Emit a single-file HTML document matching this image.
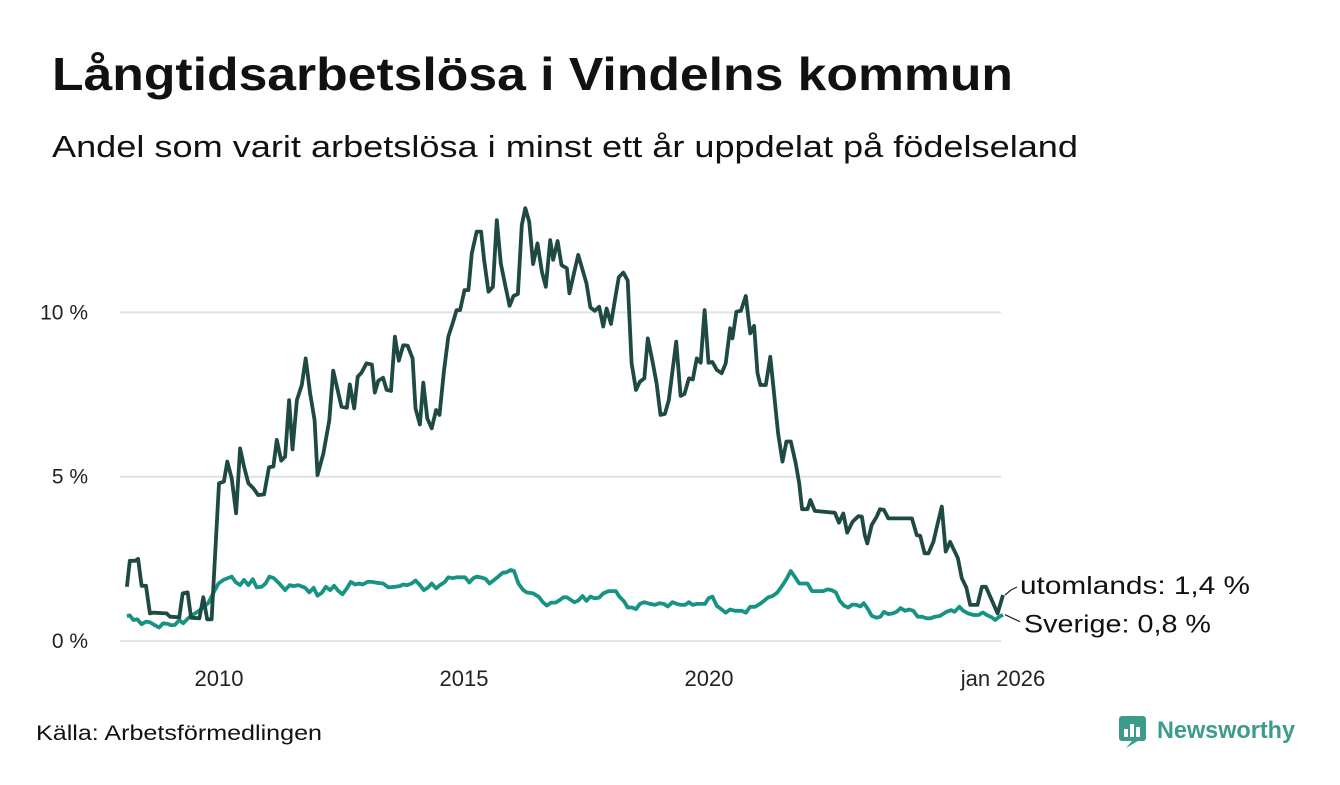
<!DOCTYPE html>
<html><head><meta charset="utf-8">
<style>
html,body{margin:0;padding:0;background:#fff;}
body{width:1340px;height:780px;overflow:hidden;font-family:"Liberation Sans",sans-serif;}
</style></head>
<body>
<svg width="1340" height="780" viewBox="0 0 1340 780" xmlns="http://www.w3.org/2000/svg" style="font-family:'Liberation Sans',sans-serif">
<text x="52" y="90" font-size="46" font-weight="bold" fill="#111" textLength="961" lengthAdjust="spacingAndGlyphs">Långtidsarbetslösa i Vindelns kommun</text>
<text x="52" y="157" font-size="31" fill="#111" textLength="1026" lengthAdjust="spacingAndGlyphs">Andel som varit arbetslösa i minst ett år uppdelat på födelseland</text>
<g id="grid"></g>
<g id="xaxis"></g>
<g id="series"></g>
<text x="36" y="740" font-size="21" fill="#111" textLength="286" lengthAdjust="spacingAndGlyphs">Källa: Arbetsförmedlingen</text>
<g>
<rect x="1119" y="716" width="27" height="25" rx="3" fill="#3d9b8c"/>
<path d="M1126 748 L1132 741 L1138 741 Z" fill="#3d9b8c"/>
<rect x="1124" y="729" width="4" height="8" fill="#fff"/><rect x="1130" y="724" width="4" height="13" fill="#fff"/><rect x="1136" y="727" width="4" height="10" fill="#fff"/>
<text x="1157" y="738" font-size="24" font-weight="bold" fill="#3d9b8c" textLength="138" lengthAdjust="spacingAndGlyphs">Newsworthy</text>
</g>
</svg>
<script>
const yTicks=[0,5,10];
const yTickLabels=["0 %","5 %","10 %"];
const xTicks=[2010,2015,2020,2026];
const xTickLabels=["2010","2015","2020","jan 2026"];
const abroadDates=[2008.12,2008.18,2008.29,2008.35,2008.42,2008.51,2008.59,2008.66,2008.93,2009.00,2009.19,2009.26,2009.36,2009.43,2009.60,2009.68,2009.76,2009.85,2010.00,2010.10,2010.17,2010.26,2010.35,2010.43,2010.51,2010.60,2010.70,2010.80,2010.92,2011.02,2011.11,2011.18,2011.27,2011.35,2011.43,2011.50,2011.59,2011.69,2011.77,2011.86,2011.95,2012.01,2012.13,2012.25,2012.33,2012.42,2012.50,2012.61,2012.67,2012.76,2012.83,2012.91,2013.01,2013.12,2013.18,2013.25,2013.35,2013.42,2013.51,2013.59,2013.67,2013.76,2013.85,2013.95,2014.01,2014.10,2014.17,2014.25,2014.34,2014.43,2014.50,2014.59,2014.68,2014.78,2014.85,2014.92,2015.01,2015.09,2015.16,2015.26,2015.35,2015.41,2015.50,2015.59,2015.67,2015.75,2015.84,2015.93,2016.01,2016.10,2016.18,2016.25,2016.33,2016.41,2016.50,2016.59,2016.67,2016.76,2016.82,2016.91,2016.99,2017.10,2017.15,2017.33,2017.42,2017.50,2017.58,2017.67,2017.76,2017.84,2017.91,2018.00,2018.08,2018.16,2018.25,2018.34,2018.42,2018.51,2018.59,2018.68,2018.75,2018.85,2018.93,2019.01,2019.10,2019.18,2019.33,2019.42,2019.50,2019.59,2019.67,2019.75,2019.83,2019.91,2019.99,2020.07,2020.16,2020.26,2020.34,2020.43,2020.48,2020.56,2020.65,2020.75,2020.84,2020.92,2020.99,2021.05,2021.16,2021.25,2021.41,2021.50,2021.58,2021.67,2021.77,2021.84,2021.90,2022.01,2022.07,2022.16,2022.57,2022.65,2022.74,2022.82,2022.93,2023.05,2023.12,2023.18,2023.23,2023.32,2023.42,2023.49,2023.57,2023.66,2024.14,2024.24,2024.31,2024.40,2024.48,2024.58,2024.66,2024.75,2024.83,2024.92,2024.99,2025.08,2025.16,2025.25,2025.33,2025.48,2025.57,2025.65,2025.89,2026.00];
const abroadValues=[1.65,2.44,2.44,2.50,1.68,1.68,0.84,0.86,0.84,0.74,0.72,1.45,1.48,0.71,0.69,1.33,0.66,0.66,4.80,4.85,5.46,4.95,3.89,5.86,5.31,4.80,4.65,4.44,4.46,5.29,5.31,6.12,5.49,5.61,7.33,5.83,7.33,7.79,8.60,7.54,6.72,5.05,5.71,6.72,8.23,7.64,7.13,7.10,7.81,7.08,8.04,8.17,8.45,8.41,7.56,7.92,8.01,7.64,7.61,9.26,8.53,9.00,8.99,8.60,7.08,6.59,7.86,6.77,6.47,7.03,6.88,8.20,9.26,9.72,10.07,10.07,10.68,10.68,11.80,12.46,12.46,11.60,10.63,10.78,12.81,11.49,10.83,10.20,10.50,10.56,12.66,13.17,12.76,11.47,12.10,11.24,10.78,12.20,11.60,12.17,11.44,11.34,10.58,11.75,11.29,10.88,10.15,10.05,10.17,9.57,10.12,9.65,10.38,11.07,11.21,10.97,8.45,7.64,7.89,7.99,9.21,8.50,7.84,6.88,6.91,7.33,9.11,7.46,7.52,7.99,7.96,8.60,8.47,10.07,8.47,8.49,8.25,8.15,8.45,9.52,9.21,10.02,10.05,10.50,9.36,9.59,8.15,7.79,7.79,8.65,6.32,5.46,6.07,6.07,5.41,4.80,4.01,4.01,4.29,3.96,3.90,3.60,3.88,3.30,3.63,3.80,3.78,3.22,2.97,3.53,3.78,4.01,3.99,3.73,3.73,3.22,3.20,2.67,2.67,3.02,3.53,4.09,2.72,3.02,2.80,2.52,1.91,1.63,1.10,1.10,1.65,1.65,0.84,1.40];
const swedenDates=[2008.12,2008.18,2008.25,2008.33,2008.42,2008.51,2008.59,2008.68,2008.78,2008.86,2008.95,2009.02,2009.10,2009.19,2009.27,2009.37,2009.48,2009.61,2009.78,2009.88,2009.99,2010.09,2010.26,2010.34,2010.43,2010.51,2010.60,2010.69,2010.77,2010.87,2010.95,2011.03,2011.12,2011.23,2011.35,2011.44,2011.52,2011.62,2011.76,2011.84,2011.93,2012.01,2012.10,2012.18,2012.27,2012.35,2012.44,2012.52,2012.61,2012.69,2012.78,2012.86,2012.93,2013.03,2013.12,2013.22,2013.35,2013.46,2013.59,2013.69,2013.76,2013.84,2013.93,2014.01,2014.10,2014.18,2014.27,2014.34,2014.43,2014.51,2014.61,2014.68,2014.77,2014.85,2015.02,2015.11,2015.19,2015.26,2015.36,2015.44,2015.52,2015.60,2015.70,2015.79,2015.87,2015.95,2016.02,2016.11,2016.21,2016.28,2016.41,2016.52,2016.61,2016.69,2016.78,2016.87,2016.96,2017.03,2017.10,2017.25,2017.33,2017.42,2017.50,2017.58,2017.67,2017.76,2017.84,2017.95,2018.10,2018.17,2018.27,2018.34,2018.43,2018.51,2018.59,2018.68,2018.80,2018.90,2018.99,2019.08,2019.16,2019.25,2019.35,2019.42,2019.51,2019.59,2019.67,2019.75,2019.92,2019.99,2020.07,2020.16,2020.26,2020.34,2020.43,2020.53,2020.67,2020.75,2020.84,2020.94,2021.04,2021.12,2021.21,2021.30,2021.39,2021.48,2021.58,2021.67,2021.76,2021.84,2022.01,2022.10,2022.33,2022.42,2022.50,2022.59,2022.67,2022.76,2022.84,2022.93,2023.01,2023.09,2023.16,2023.23,2023.32,2023.42,2023.50,2023.57,2023.66,2023.75,2023.83,2023.91,2024.00,2024.09,2024.17,2024.26,2024.34,2024.44,2024.52,2024.61,2024.71,2024.85,2024.94,2025.01,2025.11,2025.19,2025.29,2025.40,2025.50,2025.59,2025.67,2025.77,2025.84,2025.91,2026.00];
const swedenValues=[0.76,0.78,0.64,0.66,0.51,0.59,0.57,0.49,0.41,0.54,0.52,0.48,0.49,0.64,0.54,0.69,0.81,0.94,1.15,1.45,1.75,1.86,1.96,1.79,1.70,1.86,1.70,1.88,1.63,1.65,1.75,1.96,1.91,1.75,1.55,1.70,1.67,1.70,1.62,1.48,1.62,1.38,1.47,1.65,1.55,1.68,1.52,1.42,1.60,1.80,1.72,1.75,1.72,1.80,1.80,1.77,1.75,1.63,1.65,1.67,1.72,1.70,1.75,1.84,1.70,1.55,1.63,1.75,1.60,1.70,1.80,1.94,1.91,1.94,1.94,1.78,1.91,1.96,1.93,1.89,1.75,1.84,1.96,2.08,2.09,2.16,2.13,1.75,1.55,1.48,1.45,1.35,1.18,1.08,1.17,1.17,1.25,1.33,1.33,1.18,1.23,1.37,1.22,1.35,1.30,1.32,1.45,1.52,1.52,1.35,1.20,1.02,1.02,0.97,1.13,1.18,1.13,1.10,1.15,1.13,1.05,1.18,1.13,1.10,1.10,1.18,1.10,1.13,1.13,1.30,1.35,1.07,0.96,0.86,0.96,0.92,0.92,0.86,1.04,1.04,1.13,1.22,1.33,1.37,1.47,1.65,1.88,2.13,1.94,1.75,1.75,1.52,1.52,1.57,1.55,1.48,1.22,1.07,1.02,1.11,1.10,1.05,1.15,1.00,0.77,0.71,0.74,0.89,0.82,0.84,0.89,1.00,0.92,0.96,0.92,0.74,0.74,0.69,0.69,0.74,0.76,0.89,0.94,0.89,1.04,0.92,0.84,0.79,0.79,0.87,0.79,0.72,0.64,0.72,0.80];
const NS="http://www.w3.org/2000/svg";
const xs=v=>219+(v-2010)*49;
const ys=v=>641-v*32.86;
function mk(tag,attrs,parent){const e=document.createElementNS(NS,tag);for(const k in attrs)e.setAttribute(k,attrs[k]);parent.appendChild(e);return e;}
const grid=document.getElementById('grid');
yTicks.forEach((t,i)=>{
  const l=mk('line',{x1:120,x2:1001,y1:ys(t),y2:ys(t),stroke:'#e1e1e6','stroke-width':2},grid);
  
  
  const tx=mk('text',{x:88,y:ys(t)+7,'font-size':21,fill:'#222','text-anchor':'end'},grid);
  tx.textContent=yTickLabels[i];
  
  
});
const xa=document.getElementById('xaxis');
xTicks.forEach((t,i)=>{
  const tx=mk('text',{x:xs(t),y:686,'font-size':22,fill:'#222','text-anchor':'middle'},xa);
  tx.textContent=xTickLabels[i];
  
  
});
const sg=document.getElementById('series');
function line(d,v,color,name){
  const p=mk('polyline',{points:d.map((x,i)=>xs(x).toFixed(1)+','+ys(v[i]).toFixed(1)).join(' '),fill:'none',stroke:color,'stroke-width':3.8,'stroke-linejoin':'round'},sg);
  
  
}
line(swedenDates,swedenValues,'#169383','line-sverige');
line(abroadDates,abroadValues,'#1e4a43','line-utomlands');
const ae=abroadValues[abroadValues.length-1], se=swedenValues[swedenValues.length-1];
const l1=mk('polyline',{points:`${xs(2026)+2},${ys(ae)} ${xs(2026)+8},${ys(ae)-5} ${1017},${ys(ae)-5-3}`,fill:'none',stroke:'#222','stroke-width':1.2},sg);


const t1=mk('text',{x:1020,y:ys(ae)-1,'font-size':25,fill:'#111',textLength:230,lengthAdjust:'spacingAndGlyphs'},sg);
t1.textContent='utomlands: 1,4 %';


const l2=mk('polyline',{points:`${xs(2026)+2},${ys(se)} ${1020},${ys(se)+7}`,fill:'none',stroke:'#222','stroke-width':1.2},sg);


const t2=mk('text',{x:1024,y:ys(se)+18,'font-size':25,fill:'#111',textLength:187,lengthAdjust:'spacingAndGlyphs'},sg);
t2.textContent='Sverige: 0,8 %';


</script>
</body></html>
